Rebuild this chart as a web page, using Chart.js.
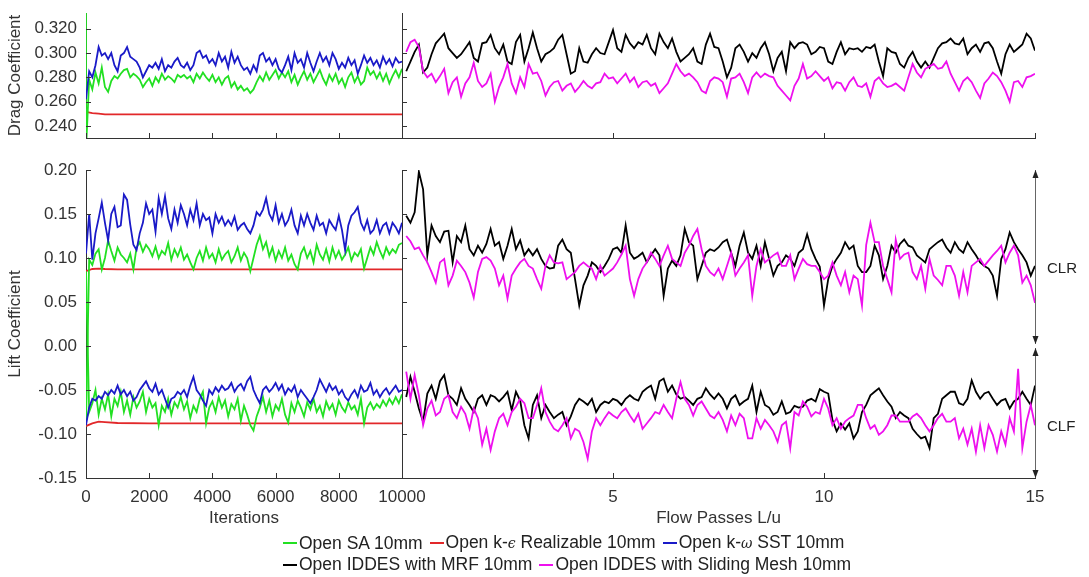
<!DOCTYPE html>
<html>
<head>
<meta charset="utf-8">
<script src="https://cdn.jsdelivr.net/npm/chart.js@4.4.0/dist/chart.umd.min.js"></script>
<style>
  body { margin: 0; background: #fff; }
  #wrap { position: relative; width: 1089px; height: 577px; overflow: hidden; font-family: "Liberation Sans", Arial, sans-serif; }
  canvas { position: absolute; }
  #legend { position: absolute; left: 283px; top: 532px; font-size: 17.5px; color: #222; line-height: 21px; }
  .row { display: flex; align-items: center; white-space: nowrap; }
  .item { display: flex; align-items: center; margin-right: 7px; }
  .swatch { width: 14px; height: 2px; margin-right: 2px; }
  .item i { font-family: "DejaVu Serif", serif; font-size: 14px; }
</style>
</head>
<body>
<div id="wrap">
  <canvas id="dragIter" width="430" height="150" style="left:0;top:0"></canvas>
  <canvas id="dragFlow" width="670" height="150" style="left:380px;top:0"></canvas>
  <canvas id="liftIter" width="440" height="385" style="left:0;top:150px"></canvas>
  <canvas id="liftFlow" width="709" height="385" style="left:380px;top:150px"></canvas>
  <div id="legend"></div>
</div>
<script>
// tick values
const dragTicks = [0.24, 0.26, 0.28, 0.30, 0.32];
const liftTicks = [-0.15, -0.10, -0.05, 0.00, 0.05, 0.10, 0.15, 0.20];
const iterTicks = [0, 2000, 4000, 6000, 8000, 10000];
const flowTicks = [0, 5, 10, 15];

// sample positions
const iterations = Array.from({ length: 101 }, (_, i) => i * 100);
const saIterations = [0].concat(iterations);
const keIterations = [0, 200, 400, 600, 1000, 2000, 4000, 6000, 8000, 10000];
const flowPasses = Array.from({ length: 150 }, (_, i) => (i + 1) / 10);

// RANS drag, vs iterations
const saDrag = [0.34, 0.22,
  0.278, 0.270, 0.284, 0.275, 0.288, 0.272, 0.268, 0.277, 0.281, 0.279,
  0.283, 0.286, 0.287, 0.280, 0.283, 0.281, 0.278, 0.272, 0.276, 0.279,
  0.273, 0.280, 0.276, 0.283, 0.278, 0.281, 0.279, 0.276, 0.282, 0.280,
  0.282, 0.279, 0.281, 0.276, 0.283, 0.279, 0.284, 0.280, 0.277, 0.282,
  0.276, 0.280, 0.274, 0.279, 0.281, 0.272, 0.276, 0.270, 0.273, 0.269,
  0.271, 0.267, 0.270, 0.276, 0.281, 0.277, 0.284, 0.278, 0.282, 0.286,
  0.279, 0.284, 0.280, 0.285, 0.276, 0.282, 0.274, 0.280, 0.285, 0.278,
  0.283, 0.276, 0.281, 0.286, 0.279, 0.274, 0.282, 0.277, 0.283, 0.275,
  0.279, 0.272, 0.280, 0.284, 0.276, 0.281, 0.274, 0.277, 0.288, 0.282,
  0.285, 0.279, 0.284, 0.277, 0.283, 0.275, 0.281, 0.286, 0.280, 0.287];
const keDrag = [0.2515, 0.2505, 0.2500, 0.2495, 0.2495, 0.2495, 0.2495, 0.2495, 0.2495, 0.2495];
const sstDrag = [
  0.262, 0.285, 0.280, 0.290, 0.305, 0.298, 0.300, 0.295, 0.300, 0.290,
  0.285, 0.298, 0.300, 0.305, 0.297, 0.295, 0.293, 0.288, 0.280, 0.285,
  0.290, 0.288, 0.292, 0.287, 0.295, 0.285, 0.290, 0.288, 0.293, 0.296,
  0.290, 0.288, 0.292, 0.286, 0.290, 0.300, 0.302, 0.296, 0.298, 0.292,
  0.295, 0.290, 0.300, 0.293, 0.297, 0.288, 0.301, 0.292, 0.297, 0.290,
  0.286, 0.288, 0.283, 0.290, 0.285, 0.298, 0.300, 0.293, 0.296, 0.290,
  0.295, 0.287, 0.284, 0.290, 0.297, 0.286, 0.300, 0.292, 0.295, 0.288,
  0.300, 0.292, 0.285, 0.293, 0.300, 0.293, 0.297, 0.290, 0.300, 0.295,
  0.287, 0.292, 0.288, 0.296, 0.290, 0.294, 0.283, 0.290, 0.298, 0.292,
  0.296, 0.290, 0.294, 0.288, 0.297, 0.291, 0.295, 0.289, 0.296, 0.292, 0.293];

// RANS lift (rear CLR and front CLF), vs iterations
const saClr = [
  -0.090, 0.098, 0.092, 0.105, 0.110, 0.087, 0.100, 0.120, 0.108, 0.097,
  0.112, 0.104, 0.100, 0.095, 0.105, 0.087, 0.112, 0.118, 0.107, 0.115,
  0.110, 0.102, 0.113, 0.100, 0.108, 0.104, 0.117, 0.098, 0.110, 0.102,
  0.112, 0.098, 0.104, 0.095, 0.087, 0.100, 0.108, 0.097, 0.112, 0.100,
  0.105, 0.095, 0.110, 0.098, 0.104, 0.108, 0.095, 0.102, 0.112, 0.097,
  0.106, 0.100, 0.085, 0.100, 0.115, 0.125, 0.110, 0.118, 0.102, 0.112,
  0.097, 0.108, 0.100, 0.112, 0.097, 0.104, 0.093, 0.087, 0.105, 0.112,
  0.100, 0.108, 0.095, 0.115, 0.104, 0.098, 0.110, 0.096, 0.112, 0.100,
  0.108, 0.098, 0.104, 0.112, 0.097, 0.106, 0.102, 0.110, 0.088, 0.100,
  0.112, 0.104, 0.118, 0.108, 0.100, 0.112, 0.104, 0.110, 0.106, 0.115, 0.117];
const saClf = [
  0.085, -0.075, -0.065, -0.050, -0.078, -0.060, -0.072, -0.055, -0.080, -0.060,
  -0.068, -0.052, -0.075, -0.062, -0.078, -0.058, -0.070, -0.063, -0.052, -0.075,
  -0.060, -0.070, -0.065, -0.090, -0.068, -0.075, -0.060, -0.078, -0.064, -0.070,
  -0.058, -0.072, -0.063, -0.082, -0.068, -0.075, -0.060, -0.052, -0.088, -0.070,
  -0.063, -0.075, -0.058, -0.070, -0.062, -0.080, -0.066, -0.072, -0.060, -0.085,
  -0.068, -0.078, -0.090, -0.096, -0.080, -0.070, -0.058, -0.075, -0.062, -0.080,
  -0.067, -0.073, -0.060, -0.078, -0.087, -0.065, -0.075, -0.062, -0.070, -0.080,
  -0.064, -0.072, -0.060, -0.075, -0.068, -0.080, -0.063, -0.072, -0.066, -0.078,
  -0.062, -0.070, -0.075, -0.064, -0.072, -0.068, -0.078, -0.060, -0.088, -0.070,
  -0.064, -0.072, -0.066, -0.070, -0.062, -0.068, -0.060, -0.066, -0.058, -0.065, -0.055];
const keClr = [0.085, 0.0875, 0.088, 0.0875, 0.087, 0.087, 0.087, 0.087, 0.087, 0.087];
const keClf = [-0.091, -0.088, -0.086, -0.0865, -0.0875, -0.088, -0.088, -0.088, -0.088, -0.088];
const sstClr = [
  0.105, 0.150, 0.098, 0.128, 0.145, 0.163, 0.140, 0.120, 0.150, 0.158,
  0.135, 0.137, 0.172, 0.166, 0.138, 0.115, 0.109, 0.128, 0.140, 0.162,
  0.150, 0.155, 0.130, 0.168, 0.150, 0.170, 0.145, 0.133, 0.155, 0.140,
  0.160, 0.150, 0.137, 0.155, 0.143, 0.162, 0.137, 0.150, 0.143, 0.146,
  0.128, 0.150, 0.140, 0.147, 0.137, 0.143, 0.137, 0.147, 0.132, 0.137,
  0.140, 0.133, 0.128, 0.137, 0.152, 0.148, 0.155, 0.168, 0.150, 0.143,
  0.160, 0.140, 0.150, 0.137, 0.143, 0.155, 0.137, 0.128, 0.148, 0.137,
  0.150, 0.140, 0.132, 0.148, 0.137, 0.140, 0.128, 0.143, 0.137, 0.132,
  0.148, 0.132, 0.109, 0.137, 0.148, 0.152, 0.158, 0.140, 0.132, 0.143,
  0.128, 0.132, 0.143, 0.128, 0.137, 0.140, 0.128, 0.140, 0.135, 0.128, 0.140];
const sstClf = [
  -0.090, -0.070, -0.060, -0.062, -0.057, -0.060, -0.052, -0.056, -0.050, -0.054,
  -0.045, -0.055, -0.050, -0.057, -0.052, -0.062, -0.058, -0.050, -0.045, -0.040,
  -0.048, -0.052, -0.043, -0.055, -0.050, -0.060, -0.070, -0.060, -0.058, -0.052,
  -0.055, -0.050, -0.058, -0.045, -0.035, -0.050, -0.055, -0.062, -0.068, -0.050,
  -0.055, -0.047, -0.052, -0.045, -0.050, -0.048, -0.042, -0.052, -0.046, -0.043,
  -0.050, -0.040, -0.035, -0.050, -0.058, -0.065, -0.050, -0.046, -0.052, -0.048,
  -0.042, -0.050, -0.044, -0.055, -0.048, -0.052, -0.045, -0.058, -0.050, -0.055,
  -0.060, -0.065, -0.058, -0.050, -0.038, -0.045, -0.052, -0.043, -0.050, -0.046,
  -0.055, -0.050, -0.058, -0.062, -0.055, -0.050, -0.058, -0.045, -0.052, -0.050,
  -0.042, -0.055, -0.050, -0.058, -0.052, -0.048, -0.055, -0.050, -0.045, -0.052, -0.050];

// IDDES, vs flow passes
const mrfDrag = [
  0.285, 0.293, 0.301, 0.307, 0.284, 0.288, 0.299, 0.308, 0.312, 0.316,
  0.304, 0.300, 0.296, 0.299, 0.304, 0.309, 0.296, 0.293, 0.308, 0.309,
  0.315, 0.304, 0.299, 0.307, 0.293, 0.291, 0.309, 0.315, 0.293, 0.304,
  0.317, 0.304, 0.293, 0.299, 0.301, 0.304, 0.311, 0.315, 0.299, 0.283,
  0.285, 0.304, 0.293, 0.292, 0.299, 0.304, 0.300, 0.299, 0.309, 0.319,
  0.304, 0.301, 0.315, 0.308, 0.304, 0.309, 0.307, 0.315, 0.304, 0.299,
  0.316, 0.309, 0.304, 0.312, 0.301, 0.293, 0.296, 0.299, 0.304, 0.293,
  0.291, 0.307, 0.316, 0.305, 0.304, 0.293, 0.280, 0.288, 0.304, 0.307,
  0.301, 0.293, 0.300, 0.296, 0.304, 0.309, 0.299, 0.285, 0.296, 0.301,
  0.285, 0.309, 0.304, 0.308, 0.309, 0.307, 0.299, 0.301, 0.305, 0.304,
  0.293, 0.291, 0.301, 0.309, 0.299, 0.304, 0.303, 0.304, 0.301, 0.305,
  0.304, 0.307, 0.293, 0.281, 0.304, 0.301, 0.300, 0.291, 0.288, 0.296,
  0.301, 0.293, 0.288, 0.293, 0.288, 0.296, 0.304, 0.308, 0.309, 0.312,
  0.308, 0.307, 0.312, 0.299, 0.304, 0.307, 0.301, 0.308, 0.309, 0.304,
  0.293, 0.283, 0.299, 0.307, 0.301, 0.304, 0.307, 0.316, 0.312, 0.302];
const smDrag = [
  0.301, 0.309, 0.311, 0.305, 0.285, 0.280, 0.283, 0.276, 0.281, 0.287,
  0.267, 0.276, 0.280, 0.264, 0.275, 0.280, 0.292, 0.277, 0.272, 0.275,
  0.283, 0.260, 0.272, 0.280, 0.291, 0.275, 0.267, 0.280, 0.272, 0.291,
  0.283, 0.284, 0.277, 0.265, 0.272, 0.276, 0.277, 0.269, 0.273, 0.275,
  0.268, 0.272, 0.277, 0.273, 0.271, 0.275, 0.276, 0.283, 0.279, 0.280,
  0.275, 0.279, 0.283, 0.276, 0.280, 0.272, 0.276, 0.277, 0.273, 0.275,
  0.267, 0.271, 0.275, 0.283, 0.291, 0.285, 0.281, 0.283, 0.280, 0.276,
  0.269, 0.267, 0.277, 0.280, 0.279, 0.276, 0.264, 0.279, 0.280, 0.283,
  0.276, 0.267, 0.280, 0.284, 0.280, 0.283, 0.281, 0.280, 0.273, 0.269,
  0.265, 0.261, 0.273, 0.279, 0.291, 0.279, 0.281, 0.285, 0.281, 0.277,
  0.280, 0.271, 0.276, 0.275, 0.269, 0.276, 0.280, 0.273, 0.272, 0.275,
  0.264, 0.277, 0.280, 0.275, 0.272, 0.273, 0.275, 0.272, 0.269, 0.280,
  0.291, 0.284, 0.280, 0.287, 0.289, 0.291, 0.287, 0.288, 0.293, 0.283,
  0.276, 0.269, 0.277, 0.280, 0.276, 0.269, 0.263, 0.275, 0.279, 0.284,
  0.281, 0.276, 0.269, 0.260, 0.276, 0.277, 0.272, 0.280, 0.281, 0.283];
const mrfClr = [
  0.148, 0.140, 0.152, 0.198, 0.178, 0.103, 0.137, 0.125, 0.118, 0.130,
  0.131, 0.095, 0.125, 0.118, 0.137, 0.110, 0.103, 0.114, 0.106, 0.116,
  0.133, 0.114, 0.118, 0.099, 0.114, 0.133, 0.110, 0.120, 0.103, 0.110,
  0.103, 0.110, 0.099, 0.091, 0.088, 0.089, 0.114, 0.121, 0.110, 0.106,
  0.076, 0.046, 0.069, 0.080, 0.095, 0.091, 0.084, 0.091, 0.099, 0.110,
  0.112, 0.106, 0.137, 0.106, 0.099, 0.102, 0.106, 0.095, 0.103, 0.110,
  0.103, 0.057, 0.088, 0.097, 0.091, 0.103, 0.133, 0.118, 0.114, 0.076,
  0.091, 0.106, 0.110, 0.108, 0.112, 0.118, 0.121, 0.106, 0.091, 0.114,
  0.129, 0.106, 0.099, 0.114, 0.091, 0.118, 0.099, 0.080, 0.091, 0.095,
  0.103, 0.099, 0.091, 0.106, 0.110, 0.127, 0.110, 0.099, 0.090, 0.046,
  0.076, 0.091, 0.099, 0.106, 0.118, 0.110, 0.114, 0.091, 0.084, 0.084,
  0.091, 0.114, 0.103, 0.076, 0.091, 0.114, 0.106, 0.116, 0.121, 0.114,
  0.112, 0.103, 0.099, 0.095, 0.110, 0.114, 0.118, 0.121, 0.112, 0.106,
  0.118, 0.110, 0.106, 0.118, 0.110, 0.103, 0.095, 0.091, 0.088, 0.080,
  0.057, 0.099, 0.110, 0.129, 0.118, 0.110, 0.103, 0.095, 0.080, 0.091];
const smClr = [
  0.125, 0.119, 0.110, 0.112, 0.103, 0.095, 0.084, 0.072, 0.095, 0.099,
  0.069, 0.080, 0.097, 0.091, 0.084, 0.072, 0.055, 0.084, 0.099, 0.101,
  0.097, 0.088, 0.069, 0.080, 0.054, 0.080, 0.088, 0.095, 0.099, 0.091,
  0.088, 0.076, 0.065, 0.091, 0.103, 0.095, 0.094, 0.095, 0.076, 0.080,
  0.084, 0.091, 0.095, 0.091, 0.088, 0.076, 0.091, 0.080, 0.084, 0.088,
  0.095, 0.104, 0.114, 0.076, 0.057, 0.076, 0.088, 0.095, 0.106, 0.099,
  0.091, 0.103, 0.114, 0.099, 0.095, 0.091, 0.106, 0.114, 0.125, 0.133,
  0.110, 0.091, 0.084, 0.080, 0.088, 0.076, 0.091, 0.106, 0.080, 0.088,
  0.095, 0.103, 0.057, 0.091, 0.110, 0.095, 0.099, 0.103, 0.106, 0.091,
  0.091, 0.103, 0.076, 0.088, 0.099, 0.093, 0.091, 0.091, 0.084, 0.076,
  0.080, 0.095, 0.080, 0.069, 0.084, 0.061, 0.080, 0.076, 0.046, 0.115,
  0.140, 0.118, 0.118, 0.091, 0.076, 0.061, 0.121, 0.099, 0.104, 0.106,
  0.084, 0.076, 0.091, 0.065, 0.099, 0.080, 0.075, 0.069, 0.091, 0.091,
  0.080, 0.057, 0.084, 0.061, 0.091, 0.095, 0.099, 0.091, 0.097, 0.103,
  0.108, 0.114, 0.095, 0.106, 0.114, 0.103, 0.072, 0.080, 0.069, 0.049];
const mrfClf = [
  -0.058, -0.035, -0.052, -0.071, -0.086, -0.054, -0.045, -0.060, -0.040, -0.033,
  -0.056, -0.060, -0.067, -0.048, -0.060, -0.067, -0.075, -0.060, -0.056, -0.067,
  -0.056, -0.058, -0.063, -0.058, -0.052, -0.073, -0.052, -0.062, -0.090, -0.105,
  -0.067, -0.056, -0.082, -0.067, -0.075, -0.082, -0.078, -0.075, -0.090, -0.080,
  -0.067, -0.060, -0.063, -0.067, -0.060, -0.075, -0.067, -0.063, -0.065, -0.060,
  -0.062, -0.067, -0.060, -0.056, -0.060, -0.062, -0.052, -0.048, -0.045, -0.060,
  -0.040, -0.037, -0.052, -0.045, -0.055, -0.060, -0.058, -0.062, -0.067, -0.060,
  -0.058, -0.048, -0.055, -0.060, -0.054, -0.060, -0.071, -0.060, -0.056, -0.067,
  -0.063, -0.060, -0.045, -0.075, -0.052, -0.067, -0.070, -0.078, -0.075, -0.063,
  -0.077, -0.075, -0.068, -0.070, -0.069, -0.062, -0.060, -0.063, -0.049, -0.052,
  -0.054, -0.084, -0.097, -0.088, -0.095, -0.088, -0.105, -0.097, -0.075, -0.067,
  -0.056, -0.052, -0.048, -0.056, -0.063, -0.069, -0.082, -0.075, -0.079, -0.082,
  -0.094, -0.100, -0.105, -0.103, -0.116, -0.082, -0.077, -0.060, -0.056, -0.052,
  -0.052, -0.065, -0.067, -0.060, -0.039, -0.052, -0.060, -0.054, -0.052, -0.060,
  -0.067, -0.062, -0.060, -0.071, -0.063, -0.060, -0.052, -0.060, -0.067, -0.045];
const smClf = [
  -0.029, -0.060, -0.033, -0.056, -0.090, -0.071, -0.062, -0.079, -0.075, -0.060,
  -0.056, -0.075, -0.082, -0.069, -0.077, -0.094, -0.071, -0.082, -0.112, -0.094,
  -0.118, -0.097, -0.082, -0.077, -0.090, -0.075, -0.069, -0.060, -0.065, -0.082,
  -0.082, -0.067, -0.048, -0.075, -0.086, -0.094, -0.097, -0.090, -0.082, -0.105,
  -0.094, -0.097, -0.109, -0.128, -0.097, -0.082, -0.090, -0.082, -0.075, -0.079,
  -0.082, -0.075, -0.071, -0.079, -0.086, -0.077, -0.094, -0.088, -0.082, -0.075,
  -0.077, -0.067, -0.075, -0.082, -0.060, -0.041, -0.060, -0.067, -0.079, -0.067,
  -0.063, -0.071, -0.079, -0.082, -0.075, -0.084, -0.097, -0.079, -0.090, -0.077,
  -0.082, -0.105, -0.105, -0.082, -0.094, -0.084, -0.090, -0.097, -0.109, -0.090,
  -0.086, -0.116, -0.075, -0.079, -0.063, -0.069, -0.080, -0.075, -0.077, -0.060,
  -0.071, -0.090, -0.082, -0.094, -0.086, -0.082, -0.079, -0.067, -0.067, -0.082,
  -0.094, -0.090, -0.101, -0.097, -0.090, -0.079, -0.079, -0.086, -0.086, -0.086,
  -0.080, -0.077, -0.082, -0.090, -0.097, -0.090, -0.082, -0.077, -0.086, -0.086,
  -0.082, -0.105, -0.094, -0.112, -0.094, -0.120, -0.090, -0.116, -0.090, -0.101,
  -0.120, -0.097, -0.112, -0.082, -0.097, -0.026, -0.116, -0.086, -0.067, -0.090];

const COLORS = { sa: '#22e022', ke: '#e2282a', sst: '#1a1ac8', mrf: '#000000', sm: '#ee10ee' };
const LABELS = {
  sa: 'Open SA 10mm', ke: 'Open k-\u03F5 Realizable 10mm', sst: 'Open k-\u03C9 SST 10mm',
  mrf: 'Open IDDES with MRF 10mm', sm: 'Open IDDES with Sliding Mesh 10mm'
};
const FONT = { family: '"Liberation Sans", Arial, sans-serif', size: 17 };
const AXIS = '#333';

function pts(xs, ys) { return ys.map((y, i) => ({ x: xs[i], y: y })); }
function line(key, xs, ys) {
  return { label: LABELS[key], data: pts(xs, ys), borderColor: COLORS[key], borderWidth: 1.8, pointRadius: 0, tension: 0 };
}

function axis(o) {
  return {
    type: 'linear', min: o.min, max: o.max,
    border: { display: true, color: AXIS, width: 1 },
    grid: { display: false, drawTicks: false },
    title: o.title ? { display: true, text: o.title, font: FONT, color: '#333', padding: o.titlePad } : { display: false },
    ticks: { display: !!o.fmt, font: FONT, color: '#333', padding: 9, maxRotation: 0, autoSkip: false, callback: o.fmt || (v => v) },
    afterBuildTicks: s => { s.ticks = o.ticks.map(v => ({ value: v })); },
    afterFit: s => {
      if (o.width != null) s.width = o.width;
      if (o.height != null) s.height = o.height;
      s.paddingLeft = s.paddingRight = s.paddingTop = s.paddingBottom = 0;
    }
  };
}

// MATLAB-like inward tick marks
const innerTicks = {
  id: 'innerTicks',
  afterDatasetsDraw(chart) {
    const { ctx, chartArea: a } = chart;
    const xs = chart.scales.x, ys = chart.scales.y;
    ctx.save();
    ctx.strokeStyle = AXIS; ctx.lineWidth = 1;
    ctx.beginPath();
    xs.ticks.forEach(t => { const p = Math.round(xs.getPixelForValue(t.value)) + 0.5; ctx.moveTo(p, a.bottom); ctx.lineTo(p, a.bottom - 5); });
    ys.ticks.forEach(t => { const p = Math.round(ys.getPixelForValue(t.value)) + 0.5; ctx.moveTo(a.left, p); ctx.lineTo(a.left + 5, p); });
    ctx.stroke();
    ctx.restore();
  }
};

// double arrows marking the rear / front lift bands
const bandArrows = {
  id: 'bandArrows',
  afterDraw(chart, args, opts) {
    const { ctx, chartArea: a } = chart;
    const y = chart.scales.y;
    const x = Math.round(a.right) + 0.5;
    ctx.save();
    ctx.strokeStyle = '#666'; ctx.fillStyle = '#222'; ctx.lineWidth = 1;
    const head = (yy, dir) => {
      ctx.beginPath(); ctx.moveTo(x, yy); ctx.lineTo(x - 3, yy - dir * 8); ctx.lineTo(x + 3, yy - dir * 8); ctx.closePath(); ctx.fill();
    };
    opts.bands.forEach(b => {
      const y1 = y.getPixelForValue(b.top) + (b.top === 0 ? 2 : 0);
      const y2 = y.getPixelForValue(b.bottom) - (b.bottom === 0 ? 2 : 0);
      ctx.beginPath(); ctx.moveTo(x, y1); ctx.lineTo(x, y2); ctx.stroke();
      head(y1, -1); head(y2, 1);
      ctx.font = '15px "Liberation Sans", Arial, sans-serif';
      ctx.textBaseline = 'middle'; ctx.textAlign = 'left';
      ctx.fillText(b.label, a.right + 12, y.getPixelForValue(b.at));
    });
    ctx.restore();
  }
};

function panel(id, datasets, padding, xAxis, yAxis, extra) {
  return new Chart(document.getElementById(id), {
    type: 'line',
    data: { datasets: datasets },
    options: {
      responsive: false, animation: false, devicePixelRatio: 1,
      layout: { padding: padding },
      plugins: Object.assign({ legend: { display: false }, tooltip: { enabled: false } }, extra ? extra.opts : {}),
      scales: { x: axis(xAxis), y: axis(yAxis) }
    },
    plugins: [innerTicks].concat(extra ? extra.plugins : [])
  });
}

const fmt3 = v => Number(v).toFixed(3);
const fmt2 = v => Number(v).toFixed(2);
const fmtFlow = v => (v === 0 ? '' : String(v));

panel('dragIter', [
  line('sst', iterations, sstDrag),
  line('sa', saIterations, saDrag),
  line('ke', keIterations, keDrag)
], { top: 13, right: 28, left: 0, bottom: 0 },
  { min: 0, max: 10000, ticks: iterTicks, height: 12 },
  { min: 0.230, max: 0.333, ticks: dragTicks, fmt: fmt3, title: 'Drag Coefficient', titlePad: { top: 5, bottom: 0 }, width: 86 });

panel('dragFlow', [
  line('sm', flowPasses, smDrag),
  line('mrf', flowPasses, mrfDrag)
], { top: 13, right: 15, left: 0, bottom: 0 },
  { min: 0, max: 15, ticks: flowTicks, height: 12 },
  { min: 0.230, max: 0.333, ticks: dragTicks, width: 22 });

panel('liftIter', [
  line('sst', iterations, sstClr),
  line('sst', iterations, sstClf),
  line('sa', iterations, saClr),
  line('sa', iterations, saClf),
  line('ke', keIterations, keClr),
  line('ke', keIterations, keClf)
], { top: 20, right: 38, left: 0, bottom: 0 },
  { min: 0, max: 10000, ticks: iterTicks, fmt: v => String(v), title: 'Iterations', titlePad: { top: 0, bottom: 6 }, height: 57 },
  { min: -0.15, max: 0.20, ticks: liftTicks, fmt: fmt2, title: 'Lift Coefficient', titlePad: { top: 5, bottom: 0 }, width: 86 });

panel('liftFlow', [
  line('sm', flowPasses, smClr),
  line('sm', flowPasses, smClf),
  line('mrf', flowPasses, mrfClr),
  line('mrf', flowPasses, mrfClf)
], { top: 20, right: 54, left: 0, bottom: 0 },
  { min: 0, max: 15, ticks: flowTicks, fmt: fmtFlow, title: 'Flow Passes L/u', titlePad: { top: 0, bottom: 6 }, height: 57 },
  { min: -0.15, max: 0.20, ticks: liftTicks, width: 22 },
  {
    plugins: [bandArrows],
    opts: { bandArrows: { bands: [
      { label: 'CLR', top: 0.20, bottom: 0.0, at: 0.088 },
      { label: 'CLF', top: 0.0, bottom: -0.15, at: -0.092 }
    ] } }
  });

// legend
const legendRows = [['sa', 'ke', 'sst'], ['mrf', 'sm']];
const legend = document.getElementById('legend');
legendRows.forEach(keys => {
  const row = document.createElement('div');
  row.className = 'row';
  keys.forEach(k => {
    const item = document.createElement('div');
    item.className = 'item';
    const sw = document.createElement('span');
    sw.className = 'swatch';
    sw.style.background = COLORS[k];
    item.appendChild(sw);
    const txt = document.createElement('span');
    LABELS[k].split(/([\u03F5\u03C9])/).forEach(part => {
      if (/[\u03F5\u03C9]/.test(part)) {
        const i = document.createElement('i'); i.textContent = part; txt.appendChild(i);
      } else {
        txt.appendChild(document.createTextNode(part));
      }
    });
    item.appendChild(txt);
    row.appendChild(item);
  });
  legend.appendChild(row);
});
</script>
</body>
</html>
